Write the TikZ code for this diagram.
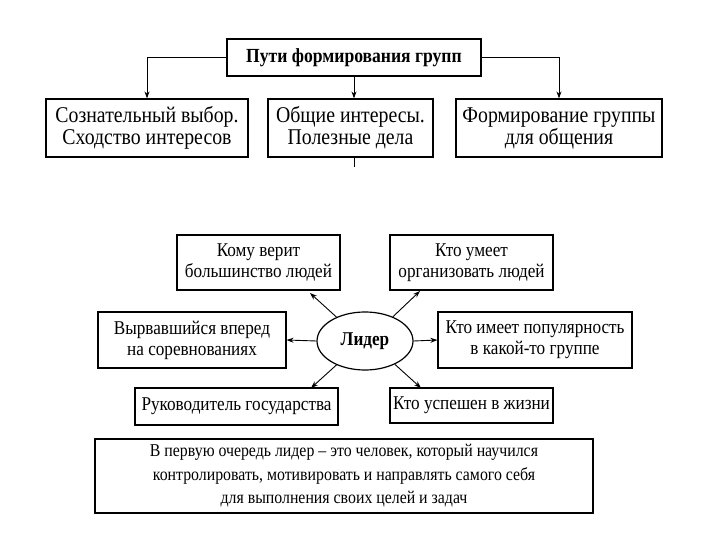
\documentclass[tikz,border=0pt]{standalone}
\usepackage{fontspec}
\setmainfont{Liberation Serif}[FakeStretch=0.88]
\usetikzlibrary{arrows.meta,shapes.geometric}
\begin{document}
\begin{tikzpicture}[x=1pt,y=-1pt,
  box/.style={draw,line width=1.2pt,rectangle,inner sep=0pt,align=center,font=\fontsize{22.5}{22}\selectfont},
  sbox/.style={draw,line width=1.2pt,rectangle,inner sep=0pt,align=center,font=\fontsize{19.5}{21}\selectfont},
  arr/.style={line width=0.9pt,-{Stealth[length=7pt,width=5pt]}}]
\useasboundingbox[fill=white] (0,0) rectangle (720,540);
% top part
\node[box,minimum width=254pt,minimum height=37pt,font=\fontsize{20}{20}\selectfont\bfseries] (t) at (354,57.5) {Пути формирования групп};
\node[box,minimum width=202pt,minimum height=58pt] (b1) at (147,128) {Сознательный выбор.\\Сходство интересов};
\node[box,minimum width=165pt,minimum height=58pt] (b2) at (350.5,128) {Общие интересы.\\Полезные дела};
\node[box,minimum width=206pt,minimum height=58pt] (b3) at (559,128) {Формирование группы\\для общения};
\draw[arr] (t.west) -| (b1.north);
\draw[arr] (t.east) -| (b3.north);
\draw[arr] (t.south) -- (t.south |- b2.north);
\coordinate (tk) at (354,167);
\draw[line width=0.8pt] (t.south |- b2.south) -- (tk);
% lower part
\node[draw,line width=1.2pt,ellipse,minimum width=96pt,minimum height=58pt,inner sep=0pt,font=\fontsize{19.5}{20}\selectfont\bfseries] (L) at (365,341) {Лидер};
\node[sbox,minimum width=163pt,minimum height=55pt] (k1) at (258.5,262.5) {Кому верит\\большинство людей};
\node[sbox,minimum width=163pt,minimum height=55pt] (k2) at (471.5,262.5) {Кто умеет\\организовать людей};
\node[sbox,minimum width=188pt,minimum height=56pt] (v) at (192,340) {Вырвавшийся вперед\\на соревнованиях};
\node[sbox,minimum width=194pt,minimum height=56pt] (p) at (535,340) {Кто имеет популярность\\в какой-то группе};
\node[sbox,minimum width=203pt,minimum height=37pt] (r) at (236.5,406.5) {Руководитель государства};
\node[sbox,minimum width=163pt,minimum height=35pt] (s) at (471.5,405.5) {Кто успешен в жизни};
\node[draw,line width=1.2pt,rectangle,inner sep=0pt,align=center,minimum width=498pt,minimum height=74pt,font=\fontsize{18}{23.5}\selectfont] (n) at (344,476) {В первую очередь лидер -- это человек, который научился\\контролировать, мотивировать и направлять самого себя\\для выполнения своих целей и задач};
\coordinate (a1) at (310,293);
\coordinate (a2) at (420,291);
\coordinate (a3) at (311,388);
\coordinate (a4) at (421,388);
\draw[arr] (L.140) -- (a1);
\draw[arr] (L.41) -- (a2);
\draw[arr] (L.220) -- (a3);
\draw[arr] (L.322) -- (a4);
\draw[arr] (L.west) -- (v.east);
\draw[arr] (L.east) -- (p.west);
\end{tikzpicture}
\end{document}
